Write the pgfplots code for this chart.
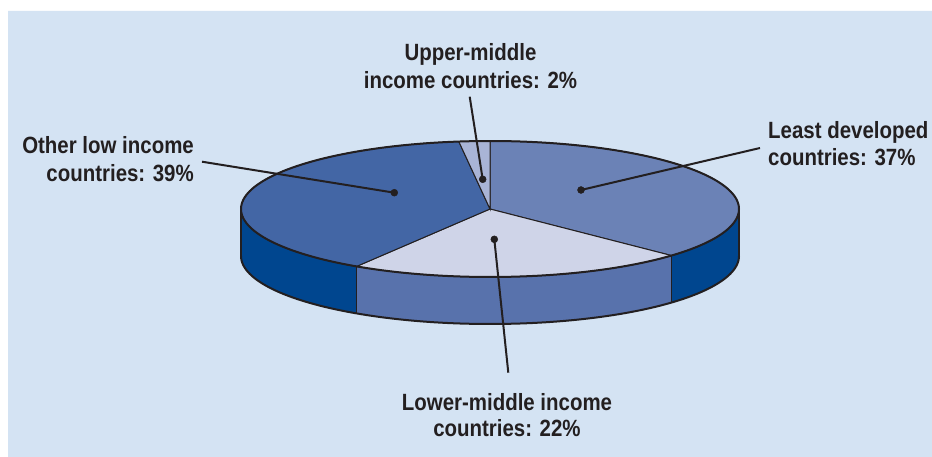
\documentclass[border=0pt]{standalone}
\usepackage{pgfplots}
\pgfplotsset{compat=1.18}
\usepackage{fontspec}
\setmainfont{Liberation Sans}[FakeStretch=0.87]
\definecolor{bgblue}{HTML}{D4E3F3}
\definecolor{txt}{HTML}{231F20}
\definecolor{olitop}{HTML}{4366A5}
\definecolor{ldctop}{HTML}{6B82B6}
\definecolor{lmctop}{HTML}{CFD4E8}
\definecolor{umctop}{HTML}{A9B4D6}
\definecolor{darkside}{HTML}{00468F}
\definecolor{lmcside}{HTML}{5872AC}
% data (percent)
\def\vLDC{37}\def\vLMC{22}\def\vOLI{39}\def\vUMC{2}
% geometry
\def\cx{490}\def\cy{209}\def\rx{249}\def\ry{68}\def\dep{47}
\pgfmathsetmacro{\aA}{90}
\pgfmathsetmacro{\aB}{\aA-3.6*\vLDC}
\pgfmathsetmacro{\aC}{\aB-3.6*\vLMC}
\pgfmathsetmacro{\aD}{\aC-3.6*\vOLI}
\pgfmathsetmacro{\aE}{\aD-3.6*\vUMC}
\pgfmathsetmacro{\xB}{\cx+\rx*cos(\aB)}
\pgfmathsetmacro{\yB}{\cy-\ry*sin(\aB)}
\pgfmathsetmacro{\xC}{\cx+\rx*cos(\aC)}
\pgfmathsetmacro{\yC}{\cy-\ry*sin(\aC)}
\pgfmathsetmacro{\yBb}{\yB+\dep}
\pgfmathsetmacro{\yCb}{\yC+\dep}
\pgfmathsetmacro{\cyb}{\cy+\dep}
\newcommand{\lab}{\fontsize{23.5}{28}\selectfont\bfseries\color{txt}}
% side panel between angles #1 and #2 (front half), colour #3
\newcommand{\sidepanel}[3]{%
  \addplot[fill=#3,draw=none,variable=\s,samples at={0,0.05,...,1.001,2,2.05,...,3.001}]
   ({\cx+\rx*cos(\s<1.5 ? (#1)+((#2)-(#1))*\s : (#2)-((#2)-(#1))*(\s-2))},
    {(\s<1.5 ? \cy : \cyb)-\ry*sin(\s<1.5 ? (#1)+((#2)-(#1))*\s : (#2)-((#2)-(#1))*(\s-2))});}
\begin{document}
\begin{tikzpicture}
\begin{axis}[width=932pt,height=457pt,scale only axis,
  xmin=0,xmax=932,ymin=0,ymax=457,y dir=reverse,hide axis,clip=false]
% backgrounds
\addplot[fill=white,draw=none] coordinates {(0,0)(932,0)(932,457)(0,457)(0,0)};
\addplot[fill=bgblue,draw=none] coordinates {(8,11)(932,11)(932,457)(8,457)(8,11)};
% side panels (front half)
\sidepanel{-180}{\aC}{darkside}
\sidepanel{\aC}{\aB}{lmcside}
\sidepanel{\aB}{0}{darkside}
% side edges
\addplot[txt,line width=1pt] coordinates {(\xB,\yB)(\xB,\yBb)};
\addplot[txt,line width=1pt] coordinates {(\xC,\yC)(\xC,\yCb)};
\addplot[txt,line width=2pt] coordinates {(\cx-\rx,\cy)(\cx-\rx,\cyb)};
\addplot[txt,line width=2pt] coordinates {(\cx+\rx,\cy)(\cx+\rx,\cyb)};
\addplot[txt,line width=2pt,domain=180:360,samples=120] ({\cx+\rx*cos(x)},{\cyb-\ry*sin(x)});
% top slices
\addplot[fill=ldctop,draw=txt,line width=1pt,domain=\aB:\aA,samples=80] ({\cx+\rx*cos(x)},{\cy-\ry*sin(x)}) -- (axis cs:\cx,\cy) -- cycle;
\addplot[fill=lmctop,draw=txt,line width=1pt,domain=\aC:\aB,samples=60] ({\cx+\rx*cos(x)},{\cy-\ry*sin(x)}) -- (axis cs:\cx,\cy) -- cycle;
\addplot[fill=olitop,draw=txt,line width=1pt,domain=\aD:\aC,samples=90] ({\cx+\rx*cos(x)},{\cy-\ry*sin(x)}) -- (axis cs:\cx,\cy) -- cycle;
\addplot[fill=umctop,draw=txt,line width=1pt,domain=\aE:\aD,samples=10] ({\cx+\rx*cos(x)},{\cy-\ry*sin(x)}) -- (axis cs:\cx,\cy) -- cycle;
\addplot[txt,line width=2pt,domain=0:360,samples=200] ({\cx+\rx*cos(x)},{\cy-\ry*sin(x)});
% leader lines
\addplot[txt,line width=2pt] coordinates {(469.7,96.7)(482.7,179.3)};
\addplot[txt,line width=2pt] coordinates {(760,148)(581,190)};
\addplot[txt,line width=2pt] coordinates {(202,161.7)(394.3,192.7)};
\addplot[txt,line width=2pt] coordinates {(508.3,372.7)(494.3,239.3)};
\addplot[only marks,mark=*,mark size=3.5pt,txt] coordinates {(482.7,179.3)(581,190)(394.3,192.7)(494.3,239.3)};
% labels
\node[anchor=base,inner sep=0] at (axis cs:470.5,60.7) {\lab Upper-middle};
\node[anchor=base,inner sep=0] at (axis cs:470.5,88.3) {\lab income countries: 2\%};
\node[anchor=base west,inner sep=0] at (axis cs:768,138.3) {\lab Least developed};
\node[anchor=base west,inner sep=0] at (axis cs:768,165.7) {\lab countries: 37\%};
\node[anchor=base east,inner sep=0] at (axis cs:194,154) {\lab Other low income};
\node[anchor=base east,inner sep=0] at (axis cs:194,181.7) {\lab countries: 39\%};
\node[anchor=base,inner sep=0] at (axis cs:507,410) {\lab Lower-middle income};
\node[anchor=base,inner sep=0] at (axis cs:507,436.7) {\lab countries: 22\%};
\end{axis}
\end{tikzpicture}
\end{document}
